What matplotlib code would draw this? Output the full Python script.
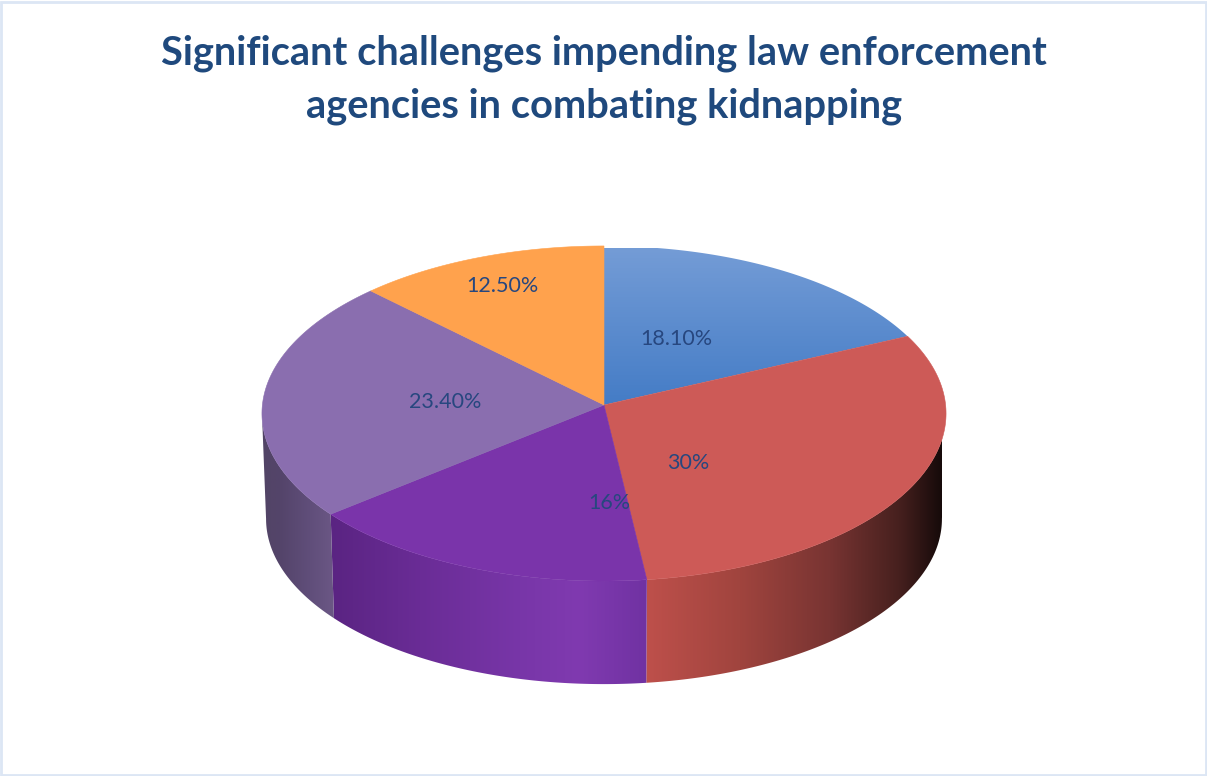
import numpy as np
import matplotlib
matplotlib.use('Agg')
import matplotlib.pyplot as plt
from matplotlib.patches import Polygon, Rectangle

title = 'Significant challenges impending law enforcement\nagencies in combating kidnapping'
values = [18.1, 30, 16, 23.4, 12.5]
labels = ['18.10%', '30%', '16%', '23.40%', '12.50%']
top_colors = ['#4f86cc', '#cd5a57', '#7a34aa', '#8a6eaf', '#ffa24d']

# label centres in pixels
label_x = [676, 688, 609, 445, 502]
label_y = [339, 463, 503, 402, 286]

# side wall shading, colour stops along screen x
side_stops = [
    ([646, 740, 830, 900, 942], [(190, 80, 75), (160, 68, 62), (120, 52, 50), (70, 32, 30), (22, 10, 10)]),
    ([262, 280, 310, 336], [(82, 68, 102), (84, 68, 106), (96, 78, 122), (108, 88, 134)]),
    ([330, 420, 520, 580, 648], [(90, 36, 130), (106, 44, 150), (120, 54, 168), (128, 58, 176), (112, 50, 162)]),
]
side_of_wedge = {1: 0, 2: 2, 3: 1}

# perspective of the disc
cx, c = 604, 0.0507


def project(theta, y0, A, B):
    X, Y = np.sin(theta), np.cos(theta)
    w = 1 + c * Y
    return cx + A * X / w, y0 - B * Y / w


def top(theta):
    return project(theta, 405, 341.6, 167.1)


def bottom(theta):
    return project(theta, 510.5, 337.5, 164.8)


def gradient_fill(pts, img, extent, zorder):
    poly = Polygon(pts, closed=True, facecolor='none', edgecolor='none')
    ax.add_patch(poly)
    im = ax.imshow(img, extent=extent, aspect='auto', zorder=zorder, interpolation='bilinear')
    im.set_clip_path(poly)


fig = plt.figure(figsize=(12.07, 7.76), dpi=100)
ax = fig.add_axes([0, 0, 1, 1])
ax.axis('off')

ends = np.cumsum(values) / np.sum(values) * 2 * np.pi
starts = np.concatenate([[0], ends[:-1]])
vis_lo, vis_hi = np.pi / 2 + c, 3 * np.pi / 2 - c

# side walls
for i, side in side_of_wedge.items():
    t = np.linspace(max(starts[i], vis_lo), min(ends[i], vis_hi), 120)
    xt, yt = top(t)
    xb, yb = bottom(t)
    pts = np.column_stack([np.r_[xt, xb[::-1]], np.r_[yt, yb[::-1]]])
    xs, rgb = side_stops[side]
    rgb = np.array(rgb) / 255
    grid = np.linspace(xs[0], xs[-1], 256)
    img = np.stack([np.interp(grid, xs, rgb[:, j]) for j in range(3)], axis=1)[None, :, :]
    gradient_fill(pts, img, [xs[0], xs[-1], 700, 400], 1)

# top face
for i in range(len(values)):
    t = np.linspace(starts[i], ends[i], 200)
    x, y = top(t)
    pts = np.column_stack([np.r_[cx, x], np.r_[405, y]])
    if i == 0:
        # blue slice has a vertical gradient
        grad = np.linspace(0, 1, 256)[:, None]
        c0, c1 = np.array([116, 156, 214]), np.array([68, 124, 198])
        img = (c0 + (c1 - c0) * grad[:, :, None]) / 255
        gradient_fill(pts, img, [cx, 920, 405, 248], 2)
    else:
        ax.add_patch(Polygon(pts, closed=True, facecolor=top_colors[i], edgecolor=top_colors[i],
                             linewidth=0.4, zorder=2))

for s, lx, ly in zip(labels, label_x, label_y):
    ax.text(lx, ly, s, ha='center', va='center', fontsize=15.5, family='Lato', color='#27477f', zorder=5)

ax.text(604, 80, title, ha='center', va='center', fontsize=28.7, family='Lato', fontweight='bold',
        color='#1f497d', linespacing=1.5)

# chart frame
ax.add_patch(Rectangle((1, 2), 1204.5, 772.5, facecolor='none', edgecolor='#dce6f4', linewidth=2, zorder=6))

ax.set_xlim(0, 1207)
ax.set_ylim(776, 0)
fig.savefig('out.png', dpi=100, facecolor='white')
